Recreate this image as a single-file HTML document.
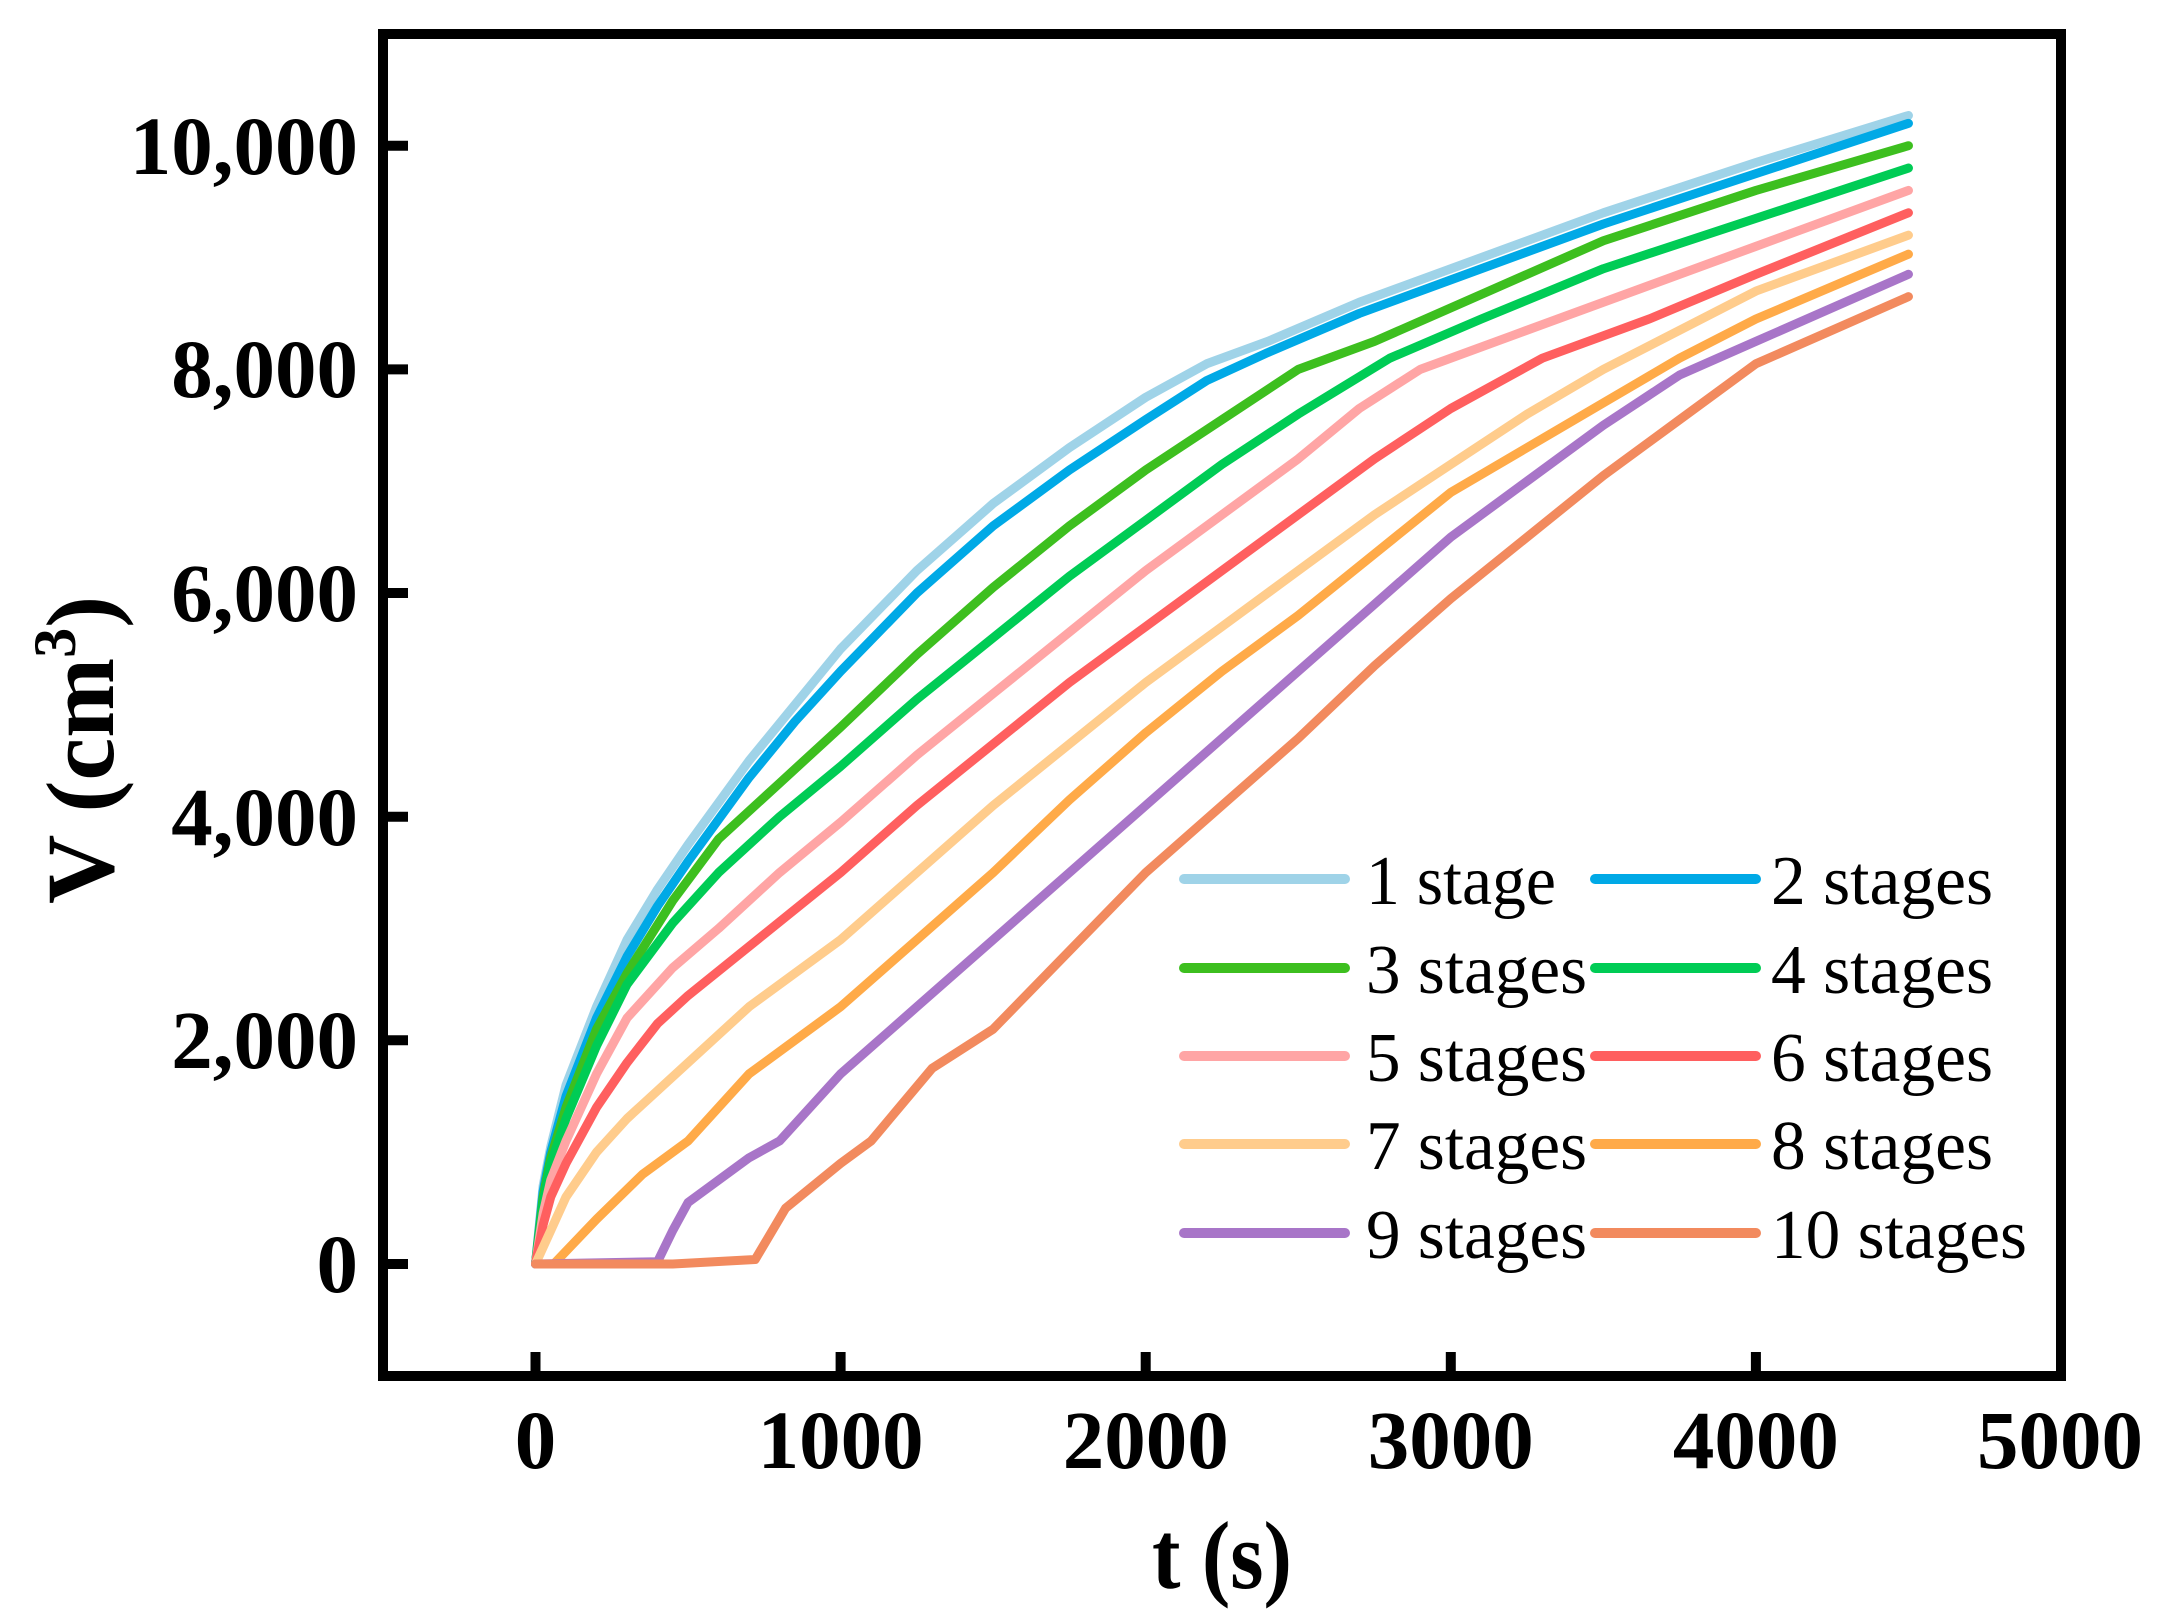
<!DOCTYPE html>
<html><head><meta charset="utf-8"><style>html,body{margin:0;padding:0;background:#fff}svg{display:block}</style></head>
<body>
<svg width="2173" height="1623" viewBox="0 0 2173 1623" xmlns="http://www.w3.org/2000/svg">
<rect width="2173" height="1623" fill="#fff"/>
<g transform="translate(535.5,1264) scale(0.3051,-0.11183)" fill="none" stroke-linejoin="round" stroke-linecap="round">
<polyline vector-effect="non-scaling-stroke" stroke="#9fd3e8" stroke-width="9" points="0,0 25,700 50,1050 100,1600 150,1950 200,2300 300,2900 400,3350 500,3750 700,4500 850,5000 1000,5500 1250,6200 1500,6800 1750,7300 2000,7750 2200,8050 2400,8250 2700,8600 3000,8900 3500,9400 4000,9850 4500,10270"/>
<polyline vector-effect="non-scaling-stroke" stroke="#00a9e6" stroke-width="9" points="0,0 25,650 50,1000 100,1500 150,1850 200,2200 300,2750 400,3200 500,3600 700,4350 850,4850 1000,5300 1250,6000 1500,6600 1750,7100 2000,7550 2200,7900 2400,8150 2700,8500 3000,8800 3500,9300 4000,9750 4500,10200"/>
<polyline vector-effect="non-scaling-stroke" stroke="#3dbf1f" stroke-width="9" points="0,0 25,600 50,950 100,1400 200,2100 300,2600 450,3250 600,3800 800,4300 1000,4800 1250,5450 1500,6050 1750,6600 2000,7100 2250,7550 2500,8000 2750,8250 3000,8550 3500,9150 4000,9600 4500,10000"/>
<polyline vector-effect="non-scaling-stroke" stroke="#00cc55" stroke-width="9" points="0,0 25,550 50,900 100,1300 200,1950 300,2500 450,3050 600,3500 800,4000 1000,4450 1250,5050 1500,5600 1750,6150 2000,6650 2250,7150 2500,7600 2800,8100 3100,8450 3500,8900 4000,9350 4500,9800"/>
<polyline vector-effect="non-scaling-stroke" stroke="#ffa5a5" stroke-width="9" points="0,0 25,450 50,750 100,1100 200,1700 300,2200 450,2650 600,3000 800,3500 1000,3950 1250,4550 1500,5100 1750,5650 2000,6200 2250,6700 2500,7200 2700,7650 2900,8000 3200,8300 3500,8600 4000,9100 4500,9600"/>
<polyline vector-effect="non-scaling-stroke" stroke="#ff5f5f" stroke-width="9" points="0,0 25,350 50,600 100,900 200,1400 300,1800 400,2150 500,2400 750,2950 1000,3500 1250,4100 1500,4650 1750,5200 2000,5700 2250,6200 2500,6700 2750,7200 3000,7650 3300,8100 3650,8450 4000,8850 4500,9400"/>
<polyline vector-effect="non-scaling-stroke" stroke="#ffcc8c" stroke-width="9" points="0,0 50,300 100,600 200,1000 300,1300 500,1800 700,2300 1000,2900 1250,3500 1500,4100 1750,4650 2000,5200 2250,5700 2500,6200 2750,6700 3000,7150 3250,7600 3500,8000 4000,8700 4500,9200"/>
<polyline vector-effect="non-scaling-stroke" stroke="#ffaa48" stroke-width="9" points="0,0 60,0 200,400 350,800 500,1100 700,1700 1000,2300 1250,2900 1500,3500 1750,4150 2000,4750 2250,5300 2500,5800 2750,6350 3000,6900 3250,7300 3500,7700 3750,8100 4000,8450 4500,9030"/>
<polyline vector-effect="non-scaling-stroke" stroke="#a875c8" stroke-width="9" points="0,0 400,20 450,300 500,550 600,750 700,950 800,1100 1000,1700 1250,2300 1500,2900 1750,3500 2000,4100 2250,4700 2500,5300 2750,5900 3000,6500 3250,7000 3500,7500 3750,7950 4000,8250 4500,8850"/>
<polyline vector-effect="non-scaling-stroke" stroke="#f28a5e" stroke-width="9" points="0,0 450,0 720,40 820,500 1000,900 1100,1100 1300,1750 1500,2100 1750,2800 2000,3500 2250,4100 2500,4700 2750,5350 3000,5950 3250,6500 3500,7050 3750,7550 4000,8050 4250,8350 4500,8650"/>
</g>
<rect x="383" y="34" width="1678" height="1342" fill="none" stroke="#000" stroke-width="10"/>
<g stroke="#000" stroke-width="10">
<line x1="535.5" y1="1376" x2="535.5" y2="1352"/><line x1="840.6" y1="1376" x2="840.6" y2="1352"/><line x1="1145.7" y1="1376" x2="1145.7" y2="1352"/><line x1="1450.8" y1="1376" x2="1450.8" y2="1352"/><line x1="1755.9" y1="1376" x2="1755.9" y2="1352"/>
<line x1="383" y1="1264" x2="408" y2="1264"/><line x1="383" y1="1040.3" x2="408" y2="1040.3"/><line x1="383" y1="816.7" x2="408" y2="816.7"/><line x1="383" y1="593" x2="408" y2="593"/><line x1="383" y1="369.4" x2="408" y2="369.4"/><line x1="383" y1="145.7" x2="408" y2="145.7"/>
</g>
<g font-family="'Liberation Serif',serif" font-weight="bold" font-size="83" fill="#000">
<g text-anchor="end">
<text x="358" y="1292">0</text><text x="358" y="1068">2,000</text><text x="358" y="845">4,000</text><text x="358" y="621">6,000</text><text x="358" y="397">8,000</text><text x="358" y="174">10,000</text>
</g>
<g text-anchor="middle">
<text x="535.5" y="1468">0</text><text x="840.6" y="1468">1000</text><text x="1145.7" y="1468">2000</text><text x="1450.8" y="1468">3000</text><text x="1755.9" y="1468">4000</text><text x="2060" y="1468">5000</text>
</g>
<text x="1222" y="1588" font-size="96" text-anchor="middle" textLength="140" lengthAdjust="spacingAndGlyphs">t (s)</text>
<text transform="translate(113,750) rotate(-90)" font-size="96" text-anchor="middle">V (cm<tspan font-size="60" dy="-38">3</tspan><tspan dy="38">)</tspan></text>
</g>
<g stroke-width="10" stroke-linecap="round">
<line x1="1184" y1="879" x2="1345" y2="879" stroke="#9fd3e8"/><line x1="1595" y1="879" x2="1756" y2="879" stroke="#00a9e6"/>
<line x1="1184" y1="968" x2="1345" y2="968" stroke="#3dbf1f"/><line x1="1595" y1="968" x2="1756" y2="968" stroke="#00cc55"/>
<line x1="1184" y1="1056" x2="1345" y2="1056" stroke="#ffa5a5"/><line x1="1595" y1="1056" x2="1756" y2="1056" stroke="#ff5f5f"/>
<line x1="1184" y1="1144" x2="1345" y2="1144" stroke="#ffcc8c"/><line x1="1595" y1="1144" x2="1756" y2="1144" stroke="#ffaa48"/>
<line x1="1184" y1="1233" x2="1345" y2="1233" stroke="#a875c8"/><line x1="1595" y1="1233" x2="1756" y2="1233" stroke="#f28a5e"/>
</g>
<g font-family="'Liberation Serif',serif" font-size="70" fill="#000" lengthAdjust="spacingAndGlyphs">
<text x="1366" y="904" textLength="190" lengthAdjust="spacingAndGlyphs">1 stage</text><text x="1771" y="904" textLength="222" lengthAdjust="spacingAndGlyphs">2 stages</text>
<text x="1366" y="993" textLength="221" lengthAdjust="spacingAndGlyphs">3 stages</text><text x="1771" y="993" textLength="222" lengthAdjust="spacingAndGlyphs">4 stages</text>
<text x="1366" y="1081" textLength="221" lengthAdjust="spacingAndGlyphs">5 stages</text><text x="1771" y="1081" textLength="222" lengthAdjust="spacingAndGlyphs">6 stages</text>
<text x="1366" y="1169" textLength="221" lengthAdjust="spacingAndGlyphs">7 stages</text><text x="1771" y="1169" textLength="222" lengthAdjust="spacingAndGlyphs">8 stages</text>
<text x="1366" y="1258" textLength="221" lengthAdjust="spacingAndGlyphs">9 stages</text><text x="1771" y="1258" textLength="256" lengthAdjust="spacingAndGlyphs">10 stages</text>
</g>
</svg>
</body></html>
